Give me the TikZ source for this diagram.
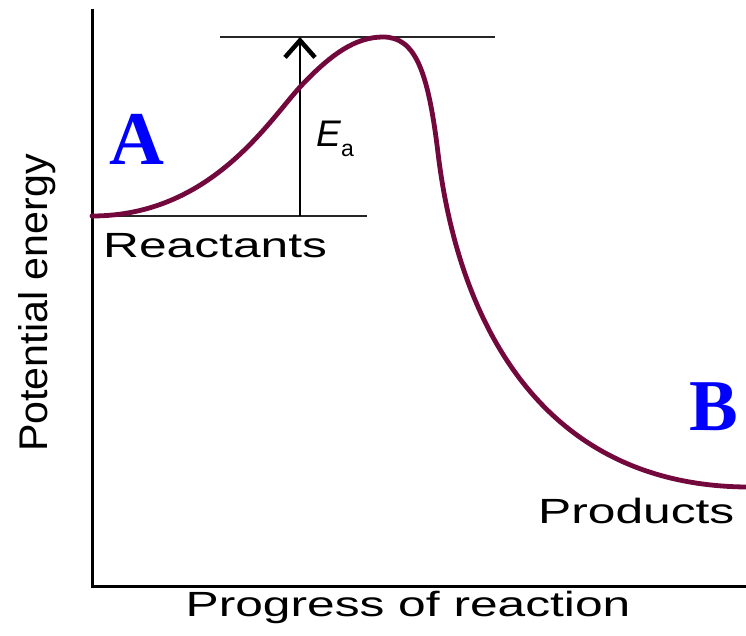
\documentclass[tikz,border=0pt]{standalone}
\usepackage{fontspec}
\setmainfont{Liberation Sans}
\newfontfamily\widesans[FakeStretch=1.42]{Liberation Sans}
\newfontfamily\axsans[FakeStretch=1.03]{Liberation Sans}
\newfontfamily\serifbold{Liberation Serif}
\usetikzlibrary{arrows.meta}
\definecolor{curvecol}{RGB}{115,8,60}
\definecolor{letterblue}{RGB}{0,0,255}
\tikzset{
  axisline/.style={line width=3pt, black},
  refline/.style={line width=2.2pt, black!85},
  energycurve/.style={line width=4.8pt, curvecol, line cap=round},
  lbl/.style={inner sep=0pt, font=\widesans\fontsize{35}{40}\selectfont},
  bigletter/.style={inner sep=0pt, text=letterblue, font=\serifbold\bfseries\fontsize{76}{80}\selectfont},
}
\begin{document}
\begin{tikzpicture}[x=1pt,y=-1pt]
\useasboundingbox[fill=white] (0,0) rectangle (746,636);
% axes
\coordinate (ytop) at (92,9);
\coordinate (origin) at (92,586);
\coordinate (xend) at (746,586);
\draw[axisline] (ytop) -- (origin) -- (xend);
% reference lines
\coordinate (topL) at (220,37);
\coordinate (topR) at (495,37);
\coordinate (reL) at (92,216);
\coordinate (reR) at (367,216);
\draw[refline] (topL) -- (topR);
\draw[refline] (reL) -- (reR);
% activation energy arrow
\coordinate (arrB) at (300,216);
\coordinate (arrT) at (300,37);
\draw[line width=2.4pt, black, -{Straight Barb[length=17pt,width=30pt,line width=4.5pt]}] (arrB) -- (arrT);
% energy curve
\coordinate (c0) at (92,216);
\coordinate (c1) at (300,87);
\coordinate (c2) at (383,37);
\coordinate (c3) at (438,153);
\coordinate (c6) at (746,487);
\draw[energycurve] (c0) .. controls (210,216) and (268,122) .. (c1)
  .. controls (330,55) and (355,37) .. (c2)
  .. controls (415,37) and (428,70) .. (c3)
  .. controls (458,320) and (540,485) .. (c6);
% labels
\node[lbl, anchor=base west] (react) at (103,258) {Reactants};
\node[lbl, anchor=base west] (prod) at (538,523) {Products};
\node[lbl, anchor=base] (xlab) at (408,616) {Progress of reaction};
\node[inner sep=0pt, anchor=base, rotate=90, font=\axsans\fontsize{40}{44}\selectfont] (ylab) at (47,303) {Potential energy};
\node[inner sep=0pt, anchor=base west, font=\fontsize{37}{40}\selectfont] (ea) at (316,147) {\textit{E}\raisebox{-10pt}{\fontsize{23}{24}\selectfont a}};
\node[bigletter, anchor=base west] (A) at (109,165) {A};
\node[bigletter, anchor=base west, font=\serifbold\bfseries\fontsize{73}{76}\selectfont] (B) at (689,430) {B};
\end{tikzpicture}
\end{document}
